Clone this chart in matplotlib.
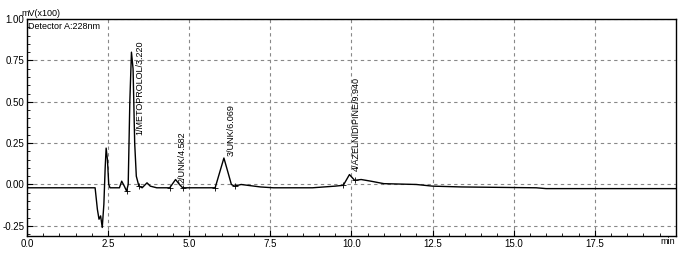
import matplotlib.pyplot as plt
from matplotlib.ticker import MultipleLocator

# chromatogram trace (time in min, signal in mV x100)
time_min = [0.0, 1.9, 2.1, 2.17, 2.22, 2.27, 2.32, 2.37, 2.41, 2.44, 2.48, 2.52, 2.56,
            2.85, 2.92, 3.0, 3.07, 3.12, 3.17, 3.22, 3.27, 3.32, 3.37, 3.45, 3.55,
            3.7, 3.8, 4.0, 4.4, 4.58, 4.7, 4.8, 5.8, 5.95, 6.07, 6.2, 6.3, 6.4, 6.6,
            6.8, 7.2, 7.6, 8.8, 9.5, 9.75, 9.94, 10.1, 10.3, 10.6, 11.0, 12.0, 12.5,
            13.4, 15.7, 16.0, 20.0]
signal = [-0.02, -0.02, -0.02, -0.15, -0.21, -0.19, -0.26, -0.12, 0.10, 0.22, 0.15, 0.0, -0.02,
          -0.02, 0.02, -0.01, -0.04, 0.0, 0.50, 0.80, 0.70, 0.25, 0.05, -0.01, -0.02,
          0.01, -0.01, -0.02, -0.02, 0.03, 0.0, -0.02, -0.02, 0.08, 0.16, 0.07, 0.0, -0.01, 0.0,
          -0.005, -0.015, -0.02, -0.02, -0.01, -0.005, 0.06, 0.025, 0.03, 0.02, 0.005, 0.0, -0.01,
          -0.015, -0.02, -0.025, -0.025]

# peak start / end marks
mark_t = [3.07, 3.45, 4.4, 4.8, 5.8, 6.4, 9.75, 10.1]
mark_y = [-0.04, -0.01, -0.02, -0.02, -0.02, -0.01, -0.005, 0.025]

# peak labels
peak_names = ['1/METOPROLOL/3.220', '2/UNK/4.582', '3/UNK/6.069', '4/AZELNIDIPINE/9.940']
label_t = [3.48, 4.78, 6.3, 10.15]
label_y = [0.30, 0.01, 0.17, 0.08]

plt.rcParams['font.family'] = ['Liberation Sans', 'DejaVu Sans']

fig = plt.figure(figsize=(6.83, 2.69), dpi=100)
ax = fig.add_axes([0.0395, 0.123, 0.950, 0.806])

ax.plot(time_min, signal, color='black', lw=1.0)
ax.plot(mark_t, mark_y, ls='none', marker='+', ms=4, mew=0.6, color='black')

for name, t, y in zip(peak_names, label_t, label_y):
    ax.text(t, y, name, rotation=90, fontsize=6.5, ha='center', va='bottom')

ax.set_xlim(0, 20)
ax.set_ylim(-0.311, 1.0)
ax.xaxis.set_major_locator(MultipleLocator(2.5))
ax.xaxis.set_minor_locator(MultipleLocator(0.5))
ax.yaxis.set_major_locator(MultipleLocator(0.25))
ax.yaxis.set_minor_locator(MultipleLocator(0.05))
ax.set_xticks([0, 2.5, 5, 7.5, 10, 12.5, 15, 17.5])
ax.set_yticks([-0.25, 0, 0.25, 0.5, 0.75, 1.0])
ax.set_xticklabels(['0.0', '2.5', '5.0', '7.5', '10.0', '12.5', '15.0', '17.5'])
ax.set_yticklabels(['-0.25', '0.00', '0.25', '0.50', '0.75', '1.00'])
ax.tick_params(which='both', direction='in', labelsize=7)
ax.tick_params(axis='x', pad=2)
ax.tick_params(axis='y', pad=2)
ax.tick_params(which='major', length=4)
ax.tick_params(which='minor', length=2)
ax.grid(True, which='major', ls=(0, (3, 3)), color='#888888', lw=0.8)

for s in ax.spines.values():
    s.set_linewidth(1.0)

fig.text(0.031, 0.95, 'mV(x100)', fontsize=6.5, va='center', ha='left')
ax.text(0.002, 0.985, 'Detector A:228nm', transform=ax.transAxes, fontsize=6.5,
        va='top', ha='left')
fig.text(0.978, 0.118, 'min', fontsize=6.5, va='top', ha='center')

fig.savefig('out.png', dpi=100)
